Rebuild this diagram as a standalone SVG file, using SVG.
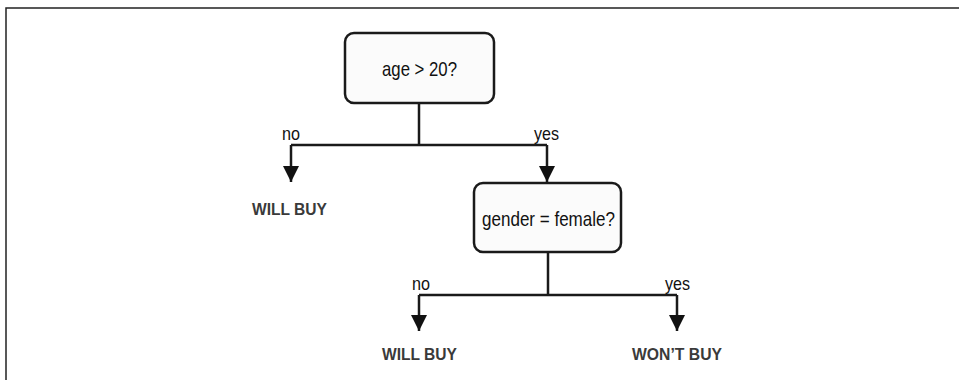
<svg xmlns="http://www.w3.org/2000/svg" width="959" height="380" viewBox="0 0 959 380">
<defs>
<marker id="arr" markerUnits="userSpaceOnUse" markerWidth="18" markerHeight="16" refX="16" refY="8" orient="auto" viewBox="0 0 18 16">
<path d="M0,0 L16,8 L0,16 Z" fill="#111"/>
</marker>
<style>
.box{fill:#fbfbfb;stroke:#1a1a1a;stroke-width:2.5}
.ln{fill:none;stroke:#1a1a1a;stroke-width:2.5}
.q{font-family:"Liberation Sans",Arial,sans-serif;font-size:21px;fill:#111}
.lbl{font-family:"Liberation Sans",Arial,sans-serif;font-size:19px;fill:#111}
.res{font-family:"Liberation Sans",Arial,sans-serif;font-size:17px;font-weight:bold;fill:#3a3a3a}
</style>
</defs>
<rect width="959" height="380" fill="#fff"/>
<path d="M6,380 V8 H959" fill="none" stroke="#222" stroke-width="1.5"/>
<g id="connectors">
<path class="ln" d="M419,103 V145"/>
<path class="ln" d="M291,145 H547"/>
<path class="ln" d="M291,145 V182" marker-end="url(#arr)"/>
<path class="ln" d="M547,145 V182" marker-end="url(#arr)"/>
<path class="ln" d="M548,252 V295"/>
<path class="ln" d="M419,295 H677"/>
<path class="ln" d="M419,295 V331" marker-end="url(#arr)"/>
<path class="ln" d="M677,295 V331" marker-end="url(#arr)"/>
<text class="lbl" x="282" y="140" textLength="18" lengthAdjust="spacingAndGlyphs">no</text>
<text class="lbl" x="534" y="140" textLength="25" lengthAdjust="spacingAndGlyphs">yes</text>
<text class="lbl" x="412" y="290" textLength="18" lengthAdjust="spacingAndGlyphs">no</text>
<text class="lbl" x="665" y="290" textLength="25" lengthAdjust="spacingAndGlyphs">yes</text>
</g>
<g id="node-age">
<rect class="box" x="345" y="33" width="149" height="70" rx="9"/>
<text class="q" x="382" y="76" textLength="75" lengthAdjust="spacingAndGlyphs">age &gt; 20?</text>
</g>
<g id="node-gender">
<rect class="box" x="474" y="183" width="147" height="69" rx="9"/>
<text class="q" x="482" y="226" textLength="133" lengthAdjust="spacingAndGlyphs">gender = female?</text>
</g>
<g id="leaf-willbuy-1">
<text class="res" x="252" y="215" textLength="75" lengthAdjust="spacingAndGlyphs">WILL BUY</text>
</g>
<g id="leaf-willbuy-2">
<text class="res" x="382" y="360" textLength="75" lengthAdjust="spacingAndGlyphs">WILL BUY</text>
</g>
<g id="leaf-wontbuy">
<text class="res" x="632" y="360" textLength="90" lengthAdjust="spacingAndGlyphs">WON’T BUY</text>
</g>
</svg>
